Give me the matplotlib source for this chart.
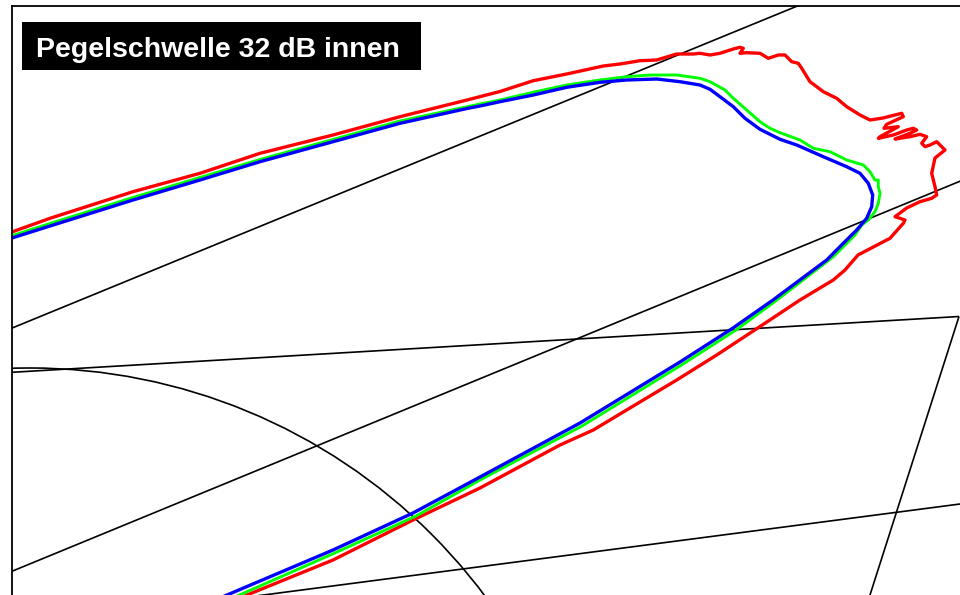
import matplotlib
matplotlib.use("Agg")
import matplotlib.pyplot as plt
from matplotlib.patches import Circle, Rectangle

# Contour lines (map units, y grows downward)
red_x = [170, 247, 333, 413, 480, 560, 593.3, 643.3, 676.7, 716.7, 757, 800, 833.3, 845, 858,
         890, 903.3, 905, 895, 906.7, 920, 931.7, 936.7, 935, 931.7, 935, 945, 940, 936.7, 930,
         925, 921.7, 926.7, 920, 910, 895, 910, 916.7, 913.3, 906.7, 893.3, 878.3, 880, 898.3,
         884, 886.7, 903.3, 901.7, 883, 870, 860, 846.7, 836.7, 823.3, 810, 801.7, 798.3, 791.7,
         785, 778.3, 768.3, 760, 746.7, 740, 743.3, 740, 733.3, 720, 710, 700, 693.3, 676.7,
         656.7, 640, 620, 603.3, 566.7, 533.3, 500, 467, 400, 333, 260, 200, 133, 50, 11, -5]
red_y = [627, 595, 560, 520, 488, 445, 430, 400, 380, 355, 328.5, 300, 280, 270, 255,
         238.3, 223.3, 220, 216.7, 208, 201.7, 198.3, 195, 186.7, 173.3, 158, 150, 145, 141.7, 145,
         146.7, 143.3, 136.7, 134.3, 136.7, 139, 133.3, 130, 128.3, 130, 135, 138.3, 136.7, 126.7,
         128.3, 124.3, 116.7, 113.3, 118, 120, 115, 106.7, 98.3, 91.7, 81.7, 68.3, 63.3, 61.7,
         55, 55, 58.3, 53.3, 52.7, 53.3, 48.3, 47.3, 49, 53.3, 55, 53.3, 54, 54,
         60, 60.7, 64, 66, 74, 80.7, 91.5, 100, 116.7, 135, 153.3, 173.3, 191.7, 218.3, 232.3, 238]

green_x = [160, 235, 337, 416, 480, 582, 683, 736, 777, 833.3, 855, 861.7, 868.3, 875, 878.3, 880,
           878.3, 878.3, 875, 870, 863.3, 846.7, 830, 813.3, 800, 780, 770, 760, 746.7, 733.3,
           725, 710, 700, 676.7, 650, 626.7, 600, 566.7, 533, 500, 480, 400, 333, 260, 200, 133,
           50, 11, -5]
green_y = [630, 597, 552, 516, 480, 426, 364, 330, 300, 256.7, 235, 225, 220, 211.7, 203.3, 193.3,
           186.7, 180, 180, 171.7, 165, 160, 151.7, 148.3, 140, 132.7, 128.3, 121.7, 110, 98.3,
           90, 81.7, 78.3, 75, 75, 76.7, 80, 85, 92.3, 100, 104, 121, 139.5, 159.5, 177.5, 197.5,
           223.5, 236, 241]

blue_x = [150, 227, 333, 413, 480, 580, 680, 733, 773, 826.7, 843.3, 856.7, 866.7, 871.7, 872.7,
          868.3, 860, 846.7, 823.3, 796.7, 780, 760, 745, 733.3, 720, 710, 700, 680, 656.7,
          626.7, 600, 566.7, 533.3, 500, 480, 467, 400, 333, 260, 200, 133, 50, 11, -5]
blue_y = [628, 595, 550, 513, 477, 423, 362, 328, 300, 260, 243.3, 230, 218.3, 206.7, 195,
          183.3, 173.3, 166.7, 156.7, 145, 139.3, 129.3, 118.3, 106.7, 96.7, 89.3, 85, 81.7, 79,
          80, 82.3, 87.3, 95, 101.7, 106, 108.5, 123.3, 141.7, 161.7, 180, 200, 226, 238.3, 243.5]

# Straight map features: (x0, y0, x1, y1)
road_segments = [
    (0, 333.0, 812, 0),
    (0, 576.2, 980, 173),
    (0, 373.0, 959, 316.5),
    (959, 316.5, 862, 620),
    (200, 603.3, 980, 501.4),
]
# Circular feature: centre x, centre y, radius
ring_cx, ring_cy, ring_r = 30, 936, 568

title_text = "Pegelschwelle 32 dB innen"

W, H = 960, 595
fig = plt.figure(figsize=(W / 100, H / 100), dpi=100)
x0, y0 = 11.5, 5.7
ax = fig.add_axes([x0 / W, 0, (W - x0) / W, (H - y0) / H])
ax.set_xlim(x0, W)
ax.set_ylim(H, y0)
ax.set_xticks([])
ax.set_yticks([])
for side in ("right", "bottom"):
    ax.spines[side].set_visible(False)
for side in ("left", "top"):
    ax.spines[side].set_linewidth(1.3)
    ax.spines[side].set_color("black")

for xa, ya, xb, yb in road_segments:
    ax.plot([xa, xb], [ya, yb], color="black", lw=1.2, solid_capstyle="butt")
ax.add_patch(Circle((ring_cx, ring_cy), ring_r, fill=False, edgecolor="black", lw=1.2))

ax.plot(red_x, red_y, color="#ff0000", lw=2.4, solid_joinstyle="round")
ax.plot(green_x, green_y, color="#00ff00", lw=2.1, solid_joinstyle="round")
ax.plot(blue_x, blue_y, color="#0000ff", lw=2.4, solid_joinstyle="round")

# Title plate
fig.patches.append(Rectangle((22 / W, 1 - 70 / H), (421 - 22) / W, (70 - 22) / H,
                             transform=fig.transFigure, facecolor="black",
                             edgecolor="none", zorder=5))
fig.text(35.5 / W, 1 - 56.8 / H, title_text, color="white", fontsize=20.5,
         fontweight="bold", family=["Liberation Sans", "DejaVu Sans"],
         va="baseline", ha="left", zorder=6)

fig.savefig("out.png", dpi=100)
